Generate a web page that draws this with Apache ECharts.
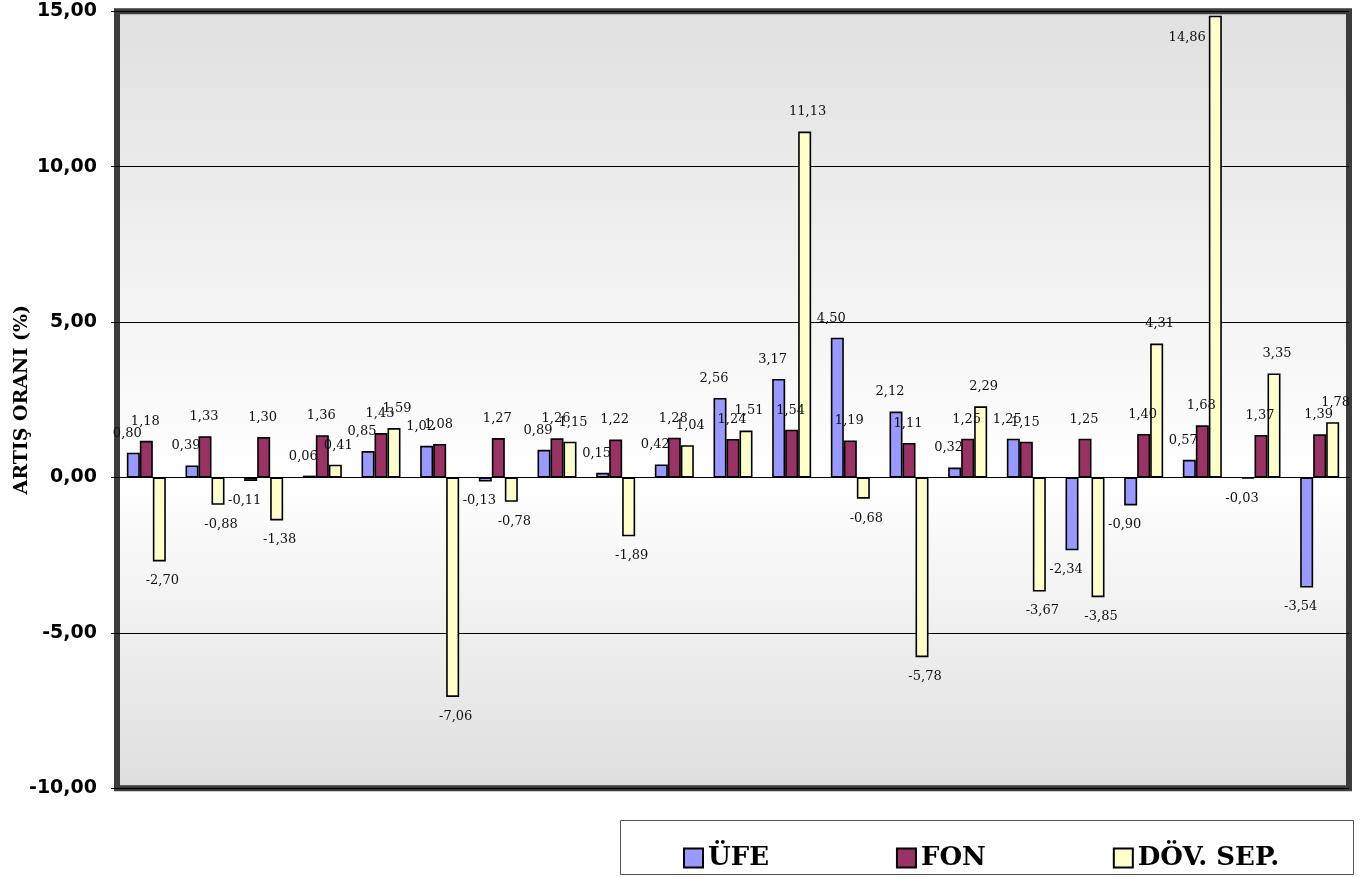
<!DOCTYPE html>
<html><head><meta charset="utf-8">
<style>html,body{margin:0;padding:0;background:#fff}#c{width:1370px;height:877px}</style>
<script src="https://cdn.jsdelivr.net/npm/echarts@6/dist/echarts.min.js"></script>
</head><body><div id="c"></div>
<script>
const categories = ['1','2','3','4','5','6','7','8','9','10','11','12','13','14','15','16','17','18','19','20','21'];
const seriesNames = ['ÜFE', 'FON', 'DÖV. SEP.'];
const ufe = [0.80, 0.39, -0.11, 0.06, 0.85, 1.02, -0.13, 0.89, 0.15, 0.42, 2.56, 3.17, 4.50, 2.12, 0.32, 1.25, -2.34, -0.90, 0.57, -0.03, -3.54];
const fon = [1.18, 1.33, 1.30, 1.36, 1.43, 1.08, 1.27, 1.26, 1.22, 1.28, 1.24, 1.54, 1.19, 1.11, 1.25, 1.15, 1.25, 1.40, 1.68, 1.37, 1.39];
const dov = [-2.70, -0.88, -1.38, 0.41, 1.59, -7.06, -0.78, 1.15, -1.89, 1.04, 1.51, 11.13, -0.68, -5.78, 2.29, -3.67, -3.85, 4.31, 14.86, 3.35, 1.78];
const yMin = -10, yMax = 15, yStep = 5;
const yAxisName = 'ARTIŞ ORANI (%)';

const colors = ['#9999FF', '#993366', '#FFFFCC'];
const labelShift = [-6, -1, 3];
const fmt = v => Number(v).toFixed(2).replace('.', ',');

function mkData(arr) {
  return arr.map(v => {
    let label;
    if (v < 0) label = { position: 'bottom', distance: 13 };
    else if (v > yMax - 1) label = { position: [-3, 22], align: 'right', verticalAlign: 'middle', offset: [0, 0] };
    else label = { position: 'top', distance: 13 };
    return { value: v, label };
  });
}
const allData = [ufe, fon, dov];

const chart = echarts.init(document.getElementById('c'));
chart.setOption({
  animation: false,
  backgroundColor: '#ffffff',
  grid: {
    left: 117, right: 21, top: 11.3, bottom: 88.7,
    outerBoundsMode: 'none', containLabel: false,
    show: true,
    borderColor: '#3c3c3c', borderWidth: 6,
    backgroundColor: new echarts.graphic.LinearGradient(0, 0, 0, 1, [
      { offset: 0, color: '#e0e0e0' },
      { offset: 0.6, color: '#ffffff' },
      { offset: 1, color: '#dedede' }
    ])
  },
  legend: {
    left: 683, top: 845, padding: 0,
    itemWidth: 19, itemHeight: 19, itemGap: 127,
    icon: 'rect',
    textStyle: { fontFamily: 'DejaVu Serif', fontWeight: 'bold', fontSize: 26, color: '#000' },
    data: seriesNames
  },
  graphic: [{
    type: 'rect', z: -1,
    shape: { x: 620.5, y: 820.5, width: 733, height: 54 },
    style: { fill: '#ffffff', stroke: '#555', lineWidth: 1 }
  }],
  xAxis: {
    type: 'category', data: categories,
    axisLine: { show: true, onZero: true, lineStyle: { color: '#000', width: 1 } },
    axisTick: { show: false }, axisLabel: { show: false }, splitLine: { show: false }
  },
  yAxis: {
    type: 'value', min: yMin, max: yMax, interval: yStep,
    name: yAxisName, nameLocation: 'middle', nameGap: 85, nameRotate: 90,
    nameMoveOverlap: false,
    nameTextStyle: { fontFamily: 'DejaVu Serif', fontWeight: 'bold', fontSize: 19, color: '#000' },
    axisLine: { show: false },
    axisTick: { show: true, length: 6, lineStyle: { color: '#000' } },
    axisLabel: { formatter: fmt, margin: 20, fontFamily: 'DejaVu Sans', fontWeight: 'bold', fontSize: 19, color: '#000' },
    splitLine: { show: true, lineStyle: { color: '#000', width: 1 } }
  },
  series: seriesNames.map((n, i) => ({
    name: n, type: 'bar', data: mkData(allData[i]),
    barWidth: 13, barGap: '0%',
    itemStyle: { color: colors[i], borderColor: '#000', borderWidth: 1.6 },
    label: {
      show: true, formatter: p => fmt(p.value), offset: [labelShift[i], 0],
      fontFamily: 'DejaVu Serif', fontSize: 13, color: '#111'
    }
  }))
});
</script></body></html>
